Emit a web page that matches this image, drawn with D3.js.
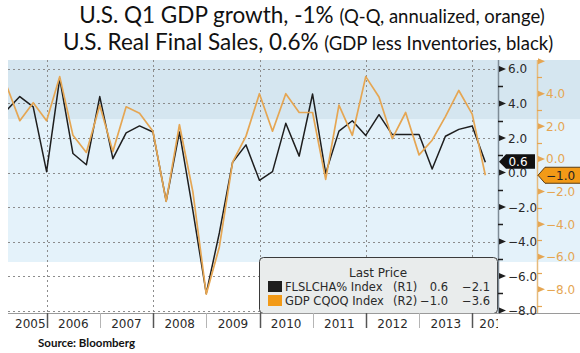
<!DOCTYPE html>
<html>
<head>
<meta charset="utf-8">
<script src="https://cdn.jsdelivr.net/npm/d3@7"></script>
<style>
  body { margin: 0; background: #fff; }
  svg { display: block; }
</style>
</head>
<body>
<div id="chart"></div>
<script>
// Quarter-end dates, Q1 2005 .. Q1 2014
var quarters = [
  "2005-03-31", "2005-06-30", "2005-09-30", "2005-12-31",
  "2006-03-31", "2006-06-30", "2006-09-30", "2006-12-31",
  "2007-03-31", "2007-06-30", "2007-09-30", "2007-12-31",
  "2008-03-31", "2008-06-30", "2008-09-30", "2008-12-31",
  "2009-03-31", "2009-06-30", "2009-09-30", "2009-12-31",
  "2010-03-31", "2010-06-30", "2010-09-30", "2010-12-31",
  "2011-03-31", "2011-06-30", "2011-09-30", "2011-12-31",
  "2012-03-31", "2012-06-30", "2012-09-30", "2012-12-31",
  "2013-03-31", "2013-06-30", "2013-09-30", "2013-12-31",
  "2014-03-31"
];
// FLSLCHA% Index (real final sales, left/R1 axis)
var finalSales = [
  3.6, 4.4, 3.8, 0.05,
  5.45, 1.1, 0.45, 4.4,
  0.8, 2.3, 2.7, 2.35,
  -1.65, 2.35, -2.2, -7.0,
  -3.5, 0.6, 1.6, -0.45,
  0.05, 2.85, 0.95, 4.55,
  -0.05, 2.4, 3.0, 2.15,
  3.35, 2.2, 2.2, 2.2,
  0.2, 2.1, 2.5, 2.7,
  0.6
];
// GDP CQOQ Index (Q-Q annualized, R2 axis)
var gdpQoQ = [
  4.5, 2.35, 3.45, 2.35,
  5.05, 1.45, 0.4, 3.3,
  0.45, 3.2, 2.8, 1.7,
  -2.6, 2.1, -2.0, -8.3,
  -5.4, -0.2, 1.4, 4.0,
  1.7, 4.0, 2.85, 2.85,
  -1.25, 3.3, 1.45, 5.05,
  3.8, 1.25, 2.85, 0.25,
  1.15, 2.6, 4.2, 2.75,
  -1.0
];
var yearLabels = ["2005", "2006", "2007", "2008", "2009", "2010", "2011", "2012", "2013", "2014"];
var r1Ticks = [6, 4, 2, 0, -2, -4, -6, -8];
var r1Minor = [5, 3, 1, -1, -3, -5, -7];
var r2Ticks = [6, 4, 2, 0, -2, -4, -6, -8];
var r2Minor = [5, 3, 1, -1, -3, -5, -7, -9];
var legendNames = ["FLSLCHA% Index", "GDP CQOQ Index"];
var legendAxes = ["(R1)", "(R2)"];
var legendLast = ["0.6", "-1.0"];
var legendOther = ["-2.1", "-3.6"];

(function () {
    var width = 580, height = 353;
    var plot = {left: 8, right: 498, top: 60, bottom: 313};
    var r2x = 537;                       // position of the second (orange) axis
    var colors = {
        black: "#1e1e1e",
        orange: "#e5a653",
        orangeTag: "#f29a17",
        bandTop: "#d5e6f0",
        bandMid: "#e4f2fa",
        grid: "#8c8c8c",
        text: "#2a2a2a"
    };
    var axisFont = "'DejaVu Sans', Verdana, sans-serif";
    var fmt = d3.format(".1f");

    var parse = d3.timeParse("%Y-%m-%d");
    var dates = quarters.map(parse);

    var x = d3.scaleTime()
        .domain([new Date(2005, 3, 10), new Date(2014, 5, 26)])
        .range([plot.left, plot.right]);
    var y1 = d3.scaleLinear().domain([-8.14, 6.52]).range([plot.bottom, plot.top]);
    var y2 = d3.scaleLinear().domain([-9.45, 6.07]).range([plot.bottom, plot.top]);

    var svg = d3.select("#chart").append("svg")
        .attr("width", width)
        .attr("height", height);

    svg.append("clipPath").attr("id", "plotClip")
        .append("rect")
        .attr("x", plot.left).attr("y", plot.top)
        .attr("width", plot.right - plot.left)
        .attr("height", plot.bottom - plot.top);

    // Background bands (span plot and the right axes)
    svg.append("rect")
        .attr("x", plot.left).attr("y", plot.top)
        .attr("width", width - plot.left).attr("height", 119 - plot.top)
        .attr("fill", colors.bandTop);
    svg.append("rect")
        .attr("x", plot.left).attr("y", 119)
        .attr("width", width - plot.left).attr("height", 262 - 119)
        .attr("fill", colors.bandMid);

    // Horizontal dotted grid on R1 ticks
    svg.append("g").selectAll("line")
        .data(r1Ticks)
        .join("line")
        .attr("x1", plot.left).attr("x2", plot.right)
        .attr("y1", function (d) { return Math.round(y1(d)) + 0.5; })
        .attr("y2", function (d) { return Math.round(y1(d)) + 0.5; })
        .attr("stroke", colors.grid)
        .attr("stroke-dasharray", "2,3");

    // Vertical dotted grid every two years
    var gridYears = [2006, 2008, 2010, 2012, 2014];
    svg.append("g").selectAll("line")
        .data(gridYears)
        .join("line")
        .attr("x1", function (d) { return Math.round(x(new Date(d, 0, 1))) + 0.5; })
        .attr("x2", function (d) { return Math.round(x(new Date(d, 0, 1))) + 0.5; })
        .attr("y1", plot.top).attr("y2", plot.bottom)
        .attr("stroke", colors.grid)
        .attr("stroke-dasharray", "2,3");

    // Series lines
    var lines = svg.append("g").attr("clip-path", "url(#plotClip)");
    var line1 = d3.line()
        .x(function (d, i) { return x(dates[i]); })
        .y(function (d) { return y1(d); });
    var line2 = d3.line()
        .x(function (d, i) { return x(dates[i]); })
        .y(function (d) { return y2(d); });
    lines.append("path")
        .datum(finalSales)
        .attr("d", line1)
        .attr("fill", "none")
        .attr("stroke", colors.black)
        .attr("stroke-width", 1.5)
        .attr("stroke-linejoin", "round");
    lines.append("path")
        .datum(gdpQoQ)
        .attr("d", line2)
        .attr("fill", "none")
        .attr("stroke", colors.orange)
        .attr("stroke-width", 1.7)
        .attr("stroke-linejoin", "round");

    // Legend box
    var lg = svg.append("g");
    lg.append("rect")
        .attr("x", 259.5).attr("y", 257.5)
        .attr("width", 238).attr("height", 56)
        .attr("rx", 4)
        .attr("fill", "#e9ecec")
        .attr("stroke", "#3a3a3a");
    lg.append("text")
        .attr("x", 378).attr("y", 277)
        .attr("text-anchor", "middle")
        .style("font", "12px " + axisFont)
        .attr("fill", colors.text)
        .text("Last Price");
    [colors.black, colors.orangeTag].forEach(function (c, i) {
        var base = 291 + i * 14;
        lg.append("rect")
            .attr("x", 268).attr("y", base - 10)
            .attr("width", 14).attr("height", 11)
            .attr("fill", c);
        lg.append("text").attr("x", 285).attr("y", base)
            .style("font", "11.5px " + axisFont).attr("fill", colors.text)
            .text(legendNames[i]);
        lg.append("text").attr("x", 393).attr("y", base)
            .style("font", "11.5px " + axisFont).attr("fill", colors.text)
            .text(legendAxes[i]);
        lg.append("text").attr("x", 448).attr("y", base)
            .attr("text-anchor", "end")
            .style("font", "11.5px " + axisFont).attr("fill", colors.text)
            .text(legendLast[i].replace("-", "\u2212"));
        lg.append("text").attr("x", 490).attr("y", base)
            .attr("text-anchor", "end")
            .style("font", "11.5px " + axisFont).attr("fill", colors.text)
            .text(legendOther[i].replace("-", "\u2212"));
    });

    // Bottom axis
    svg.append("line")
        .attr("x1", plot.left).attr("x2", width)
        .attr("y1", plot.bottom + 0.5).attr("y2", plot.bottom + 0.5)
        .attr("stroke", "#9a9a9a");
    var years = yearLabels.map(function (d) { return +d; });
    svg.append("g").selectAll("line")
        .data(years.slice(1))
        .join("line")
        .attr("x1", function (d) { return Math.round(x(new Date(d, 0, 1))) + 0.5; })
        .attr("x2", function (d) { return Math.round(x(new Date(d, 0, 1))) + 0.5; })
        .attr("y1", plot.bottom).attr("y2", plot.bottom + 15)
        .attr("stroke", function (d) { return d % 2 === 0 ? "#555" : "#b5b5b5"; })
        .attr("stroke-width", function (d) { return d % 2 === 0 ? 1.5 : 1; });

    svg.append("clipPath").attr("id", "xClip")
        .append("rect")
        .attr("x", plot.left).attr("y", plot.bottom)
        .attr("width", plot.right - plot.left).attr("height", 30);
    svg.append("g").attr("clip-path", "url(#xClip)")
        .selectAll("text")
        .data(yearLabels)
        .join("text")
        .each(function (d) {
            var a = Math.max(plot.left, x(new Date(+d, 0, 1)));
            var b = Math.min(plot.right, x(new Date(+d + 1, 0, 1)));
            var el = d3.select(this);
            if (b - a < 40) {
                el.attr("x", a + 7).attr("text-anchor", "start");
            } else {
                el.attr("x", (a + b) / 2).attr("text-anchor", "middle");
            }
        })
        .attr("y", plot.bottom + 15)
        .style("font", "12px " + axisFont)
        .attr("fill", colors.text)
        .text(function (d) { return d; });

    // Right axis R1
    svg.append("line")
        .attr("x1", plot.right + 0.5).attr("x2", plot.right + 0.5)
        .attr("y1", plot.top).attr("y2", plot.bottom)
        .attr("stroke", "#7d8b96").attr("stroke-width", 1.5);
    var r1 = svg.append("g");
    r1.selectAll("path")
        .data(r1Ticks)
        .join("path")
        .attr("d", function (d) {
            var yy = y1(d);
            return "M" + (plot.right + 1) + "," + (yy - 3) + "L" + (plot.right + 8) + "," + yy + "L" + (plot.right + 1) + "," + (yy + 3) + "Z";
        })
        .attr("fill", colors.black);
    r1.selectAll("line")
        .data(r1Minor)
        .join("line")
        .attr("x1", plot.right).attr("x2", plot.right + 5)
        .attr("y1", function (d) { return Math.round(y1(d)) + 0.5; })
        .attr("y2", function (d) { return Math.round(y1(d)) + 0.5; })
        .attr("stroke", colors.black).attr("stroke-width", 1.5);
    r1.selectAll("text")
        .data(r1Ticks)
        .join("text")
        .attr("x", plot.right + 10)
        .attr("y", function (d) { return y1(d) + 4.5; })
        .style("font", "12px " + axisFont)
        .attr("fill", colors.text)
        .text(fmt);

    // Right axis R2 (orange)
    svg.append("line")
        .attr("x1", r2x + 0.5).attr("x2", r2x + 0.5)
        .attr("y1", plot.top).attr("y2", plot.bottom)
        .attr("stroke", "#e6bb7c").attr("stroke-width", 1.5);
    var r2 = svg.append("g");
    r2.selectAll("path")
        .data(r2Ticks)
        .join("path")
        .attr("d", function (d) {
            var yy = y2(d);
            return "M" + (r2x + 1) + "," + (yy - 3) + "L" + (r2x + 8) + "," + yy + "L" + (r2x + 1) + "," + (yy + 3) + "Z";
        })
        .attr("fill", colors.orange);
    r2.selectAll("line")
        .data(r2Minor)
        .join("line")
        .attr("x1", r2x).attr("x2", r2x + 5)
        .attr("y1", function (d) { return Math.round(y2(d)) + 0.5; })
        .attr("y2", function (d) { return Math.round(y2(d)) + 0.5; })
        .attr("stroke", colors.orange).attr("stroke-width", 1.2);
    r2.selectAll("text")
        .data(r2Ticks.filter(function (d) { return d < 6; }))
        .join("text")
        .attr("x", r2x + 9)
        .attr("y", function (d) { return y2(d) + 4.5; })
        .style("font", "12px " + axisFont)
        .attr("fill", colors.orange)
        .text(fmt);

    // Last value tags
    var lastBlack = finalSales[finalSales.length - 1];
    var tb = y1(lastBlack) - 0.5;
    svg.append("path")
        .attr("d", "M" + (plot.right + 1) + "," + tb + "L" + (plot.right + 8) + "," + (tb - 7.5) +
            "L" + (r2x - 2) + "," + (tb - 7.5) + "L" + (r2x - 2) + "," + (tb + 7) +
            "L" + (plot.right + 8) + "," + (tb + 7) + "Z")
        .attr("fill", "#111");
    svg.append("text")
        .attr("x", 518).attr("y", tb + 4.5)
        .attr("text-anchor", "middle")
        .style("font", "12px " + axisFont)
        .attr("fill", "#fff")
        .text(fmt(lastBlack));

    var lastOrange = gdpQoQ[gdpQoQ.length - 1];
    var to = y2(lastOrange);
    svg.append("path")
        .attr("d", "M" + (r2x + 1) + "," + to + "L" + (r2x + 8) + "," + (to - 8) +
            "L" + (width + 2) + "," + (to - 8) + "L" + (width + 2) + "," + (to + 8) +
            "L" + (r2x + 8) + "," + (to + 8) + "Z")
        .attr("fill", colors.orangeTag)
        .attr("stroke", "#5b3c12");
    svg.append("text")
        .attr("x", r2x + 9).attr("y", to + 4.5)
        .style("font", "12px " + axisFont)
        .attr("fill", "#222")
        .text(fmt(lastOrange));

    // Title
    var t1 = svg.append("text")
        .attr("x", 312).attr("y", 23)
        .attr("text-anchor", "middle")
        .style("font-family", "Lato, 'Open Sans', sans-serif")
        .attr("fill", "#111");
    t1.append("tspan").style("font-size", "22.5px").text("U.S. Q1 GDP growth, -1% ");
    t1.append("tspan").style("font-size", "18.5px").text("(Q-Q, annualized, orange)");
    var t2 = svg.append("text")
        .attr("x", 308).attr("y", 50)
        .attr("text-anchor", "middle")
        .style("font-family", "Lato, 'Open Sans', sans-serif")
        .attr("fill", "#111");
    t2.append("tspan").style("font-size", "22.5px").text("U.S. Real Final Sales, 0.6% ");
    t2.append("tspan").style("font-size", "18.5px").text("(GDP less Inventories, black)");

    // Source
    svg.append("text")
        .attr("x", 38).attr("y", 347)
        .style("font", "bold 11.5px Lato, sans-serif")
        .attr("fill", "#111")
        .text("Source:  Bloomberg");
}());
</script>
</body>
</html>
